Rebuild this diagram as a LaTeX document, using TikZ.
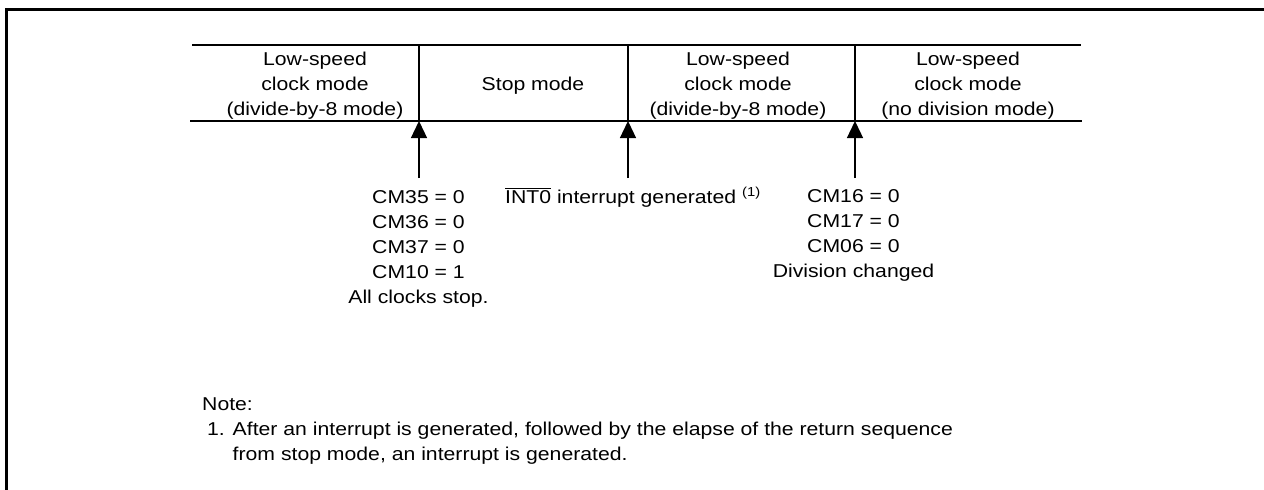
\documentclass[tikz,border=0pt]{standalone}
\usepackage{fontspec}
\setmainfont{Liberation Sans}[FakeStretch=1.14]
\usetikzlibrary{arrows.meta}
% strut giving every text line the same height and depth
\newcommand\lnstrut{\rule[-5pt]{0pt}{20pt}}
\begin{document}
\begin{tikzpicture}[x=1pt,y=-1pt,
  txt/.style={inner sep=0pt,align=center,font=\fontsize{18.6pt}{25pt}\selectfont},
  ltxt/.style={inner sep=0pt,align=left,font=\fontsize{18.6pt}{25pt}\selectfont},
  rule/.style={line width=1.3pt},
  frame/.style={line width=3pt,line join=miter},
  arr/.style={line width=1.3pt,-{Triangle[width=16pt,length=17pt]}}]
\useasboundingbox (0,0) rectangle (1264,490);

% outer frame (top and left edges)
\draw[frame] (6.5,490) -- (6.5,9.5) -- (1264,9.5);

% table rules
\coordinate (tl) at (192,45);   \coordinate (tr) at (1081,45);
\coordinate (bl) at (190,121);  \coordinate (br) at (1082,121);
\draw[rule] (tl) -- (tr);
\draw[rule] (bl) -- (br);

% column separators
\coordinate (s1t) at (419,45);  \coordinate (s1b) at (419,121);
\coordinate (s2t) at (628,45);  \coordinate (s2b) at (628,121);
\coordinate (s3t) at (855,45);  \coordinate (s3b) at (855,121);
\draw[rule] (s1t) -- (s1b);
\draw[rule] (s2t) -- (s2b);
\draw[rule] (s3t) -- (s3b);

% mode cells
\node[txt] (m1) at (315,85) {\lnstrut Low-speed\\\lnstrut clock mode\\\lnstrut (divide-by-8 mode)};
\node[txt] (m2) at (533,85) {\lnstrut Stop mode};
\node[txt] (m3) at (738,85) {\lnstrut Low-speed\\\lnstrut clock mode\\\lnstrut (divide-by-8 mode)};
\node[txt] (m4) at (968,85) {\lnstrut Low-speed\\\lnstrut clock mode\\\lnstrut (no division mode)};

% transition arrows
\coordinate (a1) at (419,178);
\coordinate (a2) at (628,178);
\coordinate (a3) at (855,178);
\draw[arr] (a1) -- (s1b);
\draw[arr] (a2) -- (s2b);
\draw[arr] (a3) -- (s3b);

% transition conditions
\node[txt] (c1) at (418.5,248) {\lnstrut CM35 = 0\\\lnstrut CM36 = 0\\\lnstrut CM37 = 0\\\lnstrut CM10 = 1\\\lnstrut All clocks stop.};
\node[txt,anchor=base west] (c2) at (505,203) {$\overline{\hbox{INT0}}$ interrupt generated \textsuperscript{(1)}};
\node[txt] (c3) at (853.5,234.5) {\lnstrut CM16 = 0\\\lnstrut CM17 = 0\\\lnstrut CM06 = 0\\\lnstrut Division changed};

% note
\node[txt,anchor=base west] (nt) at (202,410) {Note:};
\node[ltxt,anchor=west] (n1) at (207,443) {\lnstrut 1. After an interrupt is generated, followed by the elapse of the return sequence\\\lnstrut\phantom{1. }from stop mode, an interrupt is generated.};
\end{tikzpicture}
\end{document}
